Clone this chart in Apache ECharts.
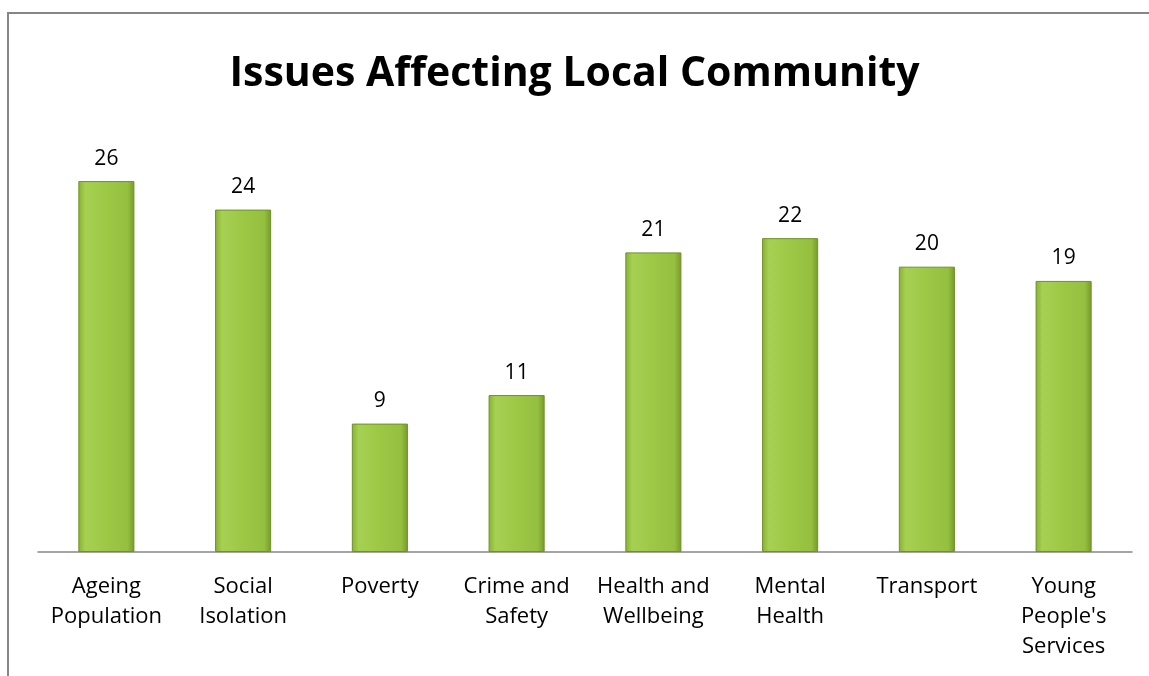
<!DOCTYPE html>
<html>
<head>
<meta charset="utf-8">
<script src="https://cdn.jsdelivr.net/npm/echarts@6/dist/echarts.min.js"></script>
<style>
  html, body { margin: 0; padding: 0; background: #fff; }
  #chart { width: 1149px; height: 676px; }
</style>
</head>
<body>
<div id="chart"></div>
<script>
// chart data
const categories = ['Ageing\nPopulation', 'Social\nIsolation', 'Poverty', 'Crime and\nSafety',
  'Health and\nWellbeing', 'Mental\nHealth', 'Transport', 'Young\nPeople\'s\nServices'];
const counts = [26, 24, 9, 11, 21, 22, 20, 19];

const FONT = '"Open Sans", "Liberation Sans", sans-serif';

// bevelled green bars, approximated with a horizontal gradient
const barFill = new echarts.graphic.LinearGradient(0, 0, 1, 0, [
  { offset: 0, color: '#88b034' },
  { offset: 0.12, color: '#a6d052' },
  { offset: 0.5, color: '#9dc846' },
  { offset: 0.88, color: '#95bf3f' },
  { offset: 1, color: '#76992a' }
]);

const chart = echarts.init(document.getElementById('chart'), null, { renderer: 'canvas' });
chart.setOption({
  animation: false,
  title: {
    text: 'Issues Affecting Local Community',
    left: 'center',
    top: 49,
    textStyle: { fontFamily: FONT, fontWeight: 'bold', fontSize: 41, color: '#000' }
  },
  graphic: [{
    type: 'rect',
    shape: { x: 8, y: 13, width: 1300, height: 800 },
    style: { fill: 'none', stroke: '#868686', lineWidth: 2 },
    silent: true
  }],
  grid: { left: 38, right: 17, top: 124, bottom: 124 },
  xAxis: {
    type: 'category',
    data: categories,
    axisLine: { lineStyle: { color: '#888', width: 1.5 } },
    axisTick: { show: false },
    axisLabel: {
      interval: 0,
      margin: 20,
      fontFamily: FONT,
      fontSize: 22,
      lineHeight: 30,
      color: '#000'
    }
  },
  yAxis: {
    type: 'value',
    min: 0,
    max: 30,
    show: false
  },
  series: [{
    type: 'bar',
    data: counts,
    barWidth: '41%',
    itemStyle: { color: barFill, borderColor: '#6f9128', borderWidth: 1 },
    label: {
      show: true,
      position: 'top',
      distance: 12,
      fontFamily: FONT,
      fontSize: 21,
      color: '#000'
    }
  }]
});
</script>
</body>
</html>
